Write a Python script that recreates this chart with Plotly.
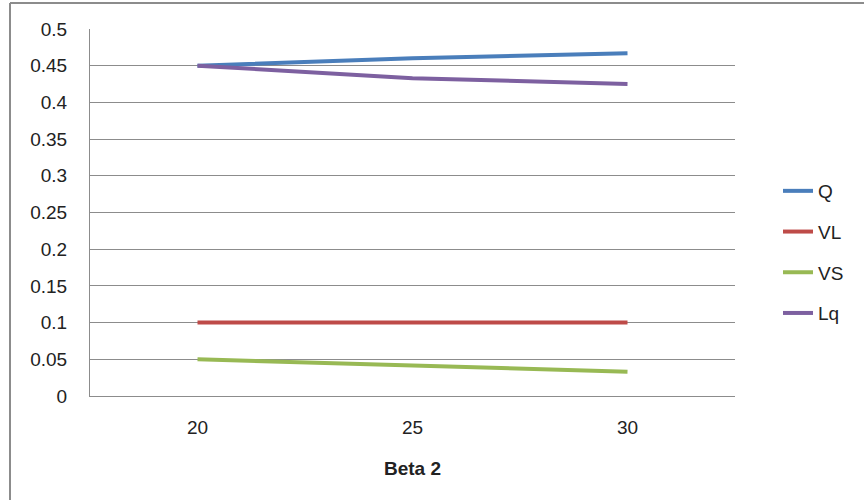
import plotly.graph_objects as go

categories = ["20", "25", "30"]
q_vals = [0.450, 0.460, 0.467]
vl_vals = [0.100, 0.100, 0.100]
vs_vals = [0.050, 0.041, 0.033]
lq_vals = [0.450, 0.433, 0.425]
y_ticks = [0, 0.05, 0.1, 0.15, 0.2, 0.25, 0.3, 0.35, 0.4, 0.45, 0.5]
y_tick_text = ["0", "0.05", "0.1", "0.15", "0.2", "0.25", "0.3", "0.35", "0.4", "0.45", "0.5"]

series = [
    ("Q", q_vals, "#4a7ebb"),
    ("VL", vl_vals, "#be4b48"),
    ("VS", vs_vals, "#98b954"),
    ("Lq", lq_vals, "#7d60a0"),
]

FONT = "Liberation Sans"
fig = go.Figure()
for name, vals, color in series:
    fig.add_trace(go.Scatter(
        x=categories, y=vals, name=name, mode="lines",
        line=dict(color=color, width=4), legendgroup=name,
    ))

L, R, T, B = 90, 129, 29, 104
W, H = 864, 500
pw, ph = W - L - R, H - T - B

def px(x):
    return (x - L) / pw

def py(y):
    return (H - B - y) / ph

fig.update_layout(
    width=W, height=H,
    margin=dict(l=L, r=R, t=T, b=B),
    paper_bgcolor="white", plot_bgcolor="white",
    font=dict(family=FONT, size=19, color="#222222"),
    showlegend=True,
    legend=dict(x=px(778), y=py(172), xanchor="left", yanchor="top",
                font=dict(size=19), tracegroupgap=13, itemwidth=30,
                bgcolor="rgba(0,0,0,0)"),
    xaxis=dict(type="category", range=[-0.5, 2.5], showgrid=False,
               showline=True, linecolor="#8c8c8c", linewidth=1,
               ticks="", ticklabelstandoff=14,
               title=dict(text="<b>Beta 2</b>", font=dict(size=19), standoff=24),
               fixedrange=True),
    yaxis=dict(range=[0, 0.5], tickvals=y_ticks, ticktext=y_tick_text,
               showgrid=True, gridcolor="#8c8c8c", gridwidth=1,
               showline=True, linecolor="#8c8c8c", linewidth=1,
               zeroline=False, ticks="", ticklabelstandoff=18,
               fixedrange=True),
    shapes=[
        dict(type="line", xref="paper", yref="paper",
             x0=px(10), x1=px(870), y0=py(3), y1=py(3),
             line=dict(color="#8c8c8c", width=2)),
        dict(type="line", xref="paper", yref="paper",
             x0=px(10), x1=px(10), y0=py(3), y1=py(505),
             line=dict(color="#8c8c8c", width=2)),
    ],
)

fig.write_html("out.html", config={"displayModeBar": False},
               post_script="document.body.style.margin='0';")
